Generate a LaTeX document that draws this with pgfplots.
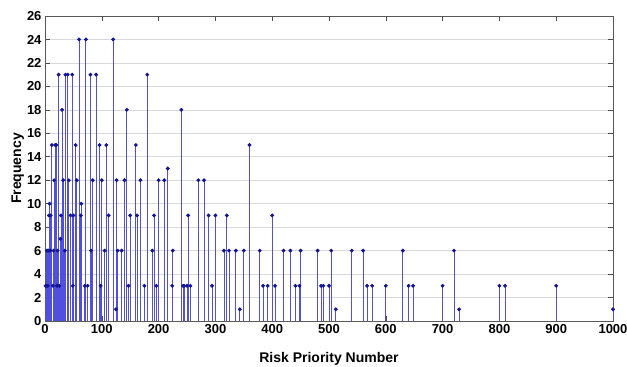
\documentclass[border=0pt]{standalone}
\usepackage{pgfplots}
\pgfplotsset{compat=1.18}
\usepackage{fontspec}
\setmainfont{Liberation Sans}
\definecolor{stemc}{RGB}{80,80,220}
\definecolor{markc}{RGB}{20,20,150}
\begin{document}
\begin{tikzpicture}[x=1pt,y=1pt]
\begin{axis}[
  name=ax,
  scale only axis,
  width=568pt, height=305pt,
  xmin=0, xmax=1000, ymin=0, ymax=26,
  xtick={0,100,...,1000},
  ytick={0,2,...,26},
  ymajorgrids,
  grid style={gray!30, line width=0.6pt},
  tick align=inside,
  major tick length=5pt,
  xtick pos=both, ytick pos=both,
  axis line style={gray!70!black, line width=0.7pt},
  tick style={gray!60!black, line width=0.6pt},
  /pgf/number format/assume math mode=true,
  /pgf/number format/set thousands separator={},
  ticklabel style={font=\fontsize{13}{14}\selectfont\bfseries},
  xlabel={Risk Priority Number},
  ylabel={Frequency},
  label style={font=\fontsize{14}{15}\selectfont\bfseries},
  xlabel style={at={(axis description cs:0.5,0)}, anchor=north, yshift=-28pt},
  ylabel style={yshift=-4pt},
  clip=false,
]
\addplot[ycomb, color=stemc, line width=0.8pt, mark=*, mark size=1.5pt,
  mark options={fill=markc, draw=markc}] table {
x y
1 3
2 3
3 6
4 6
5 3
6 6
7 9
8 10
9 6
10 9
12 15
14 3
15 6
16 12
18 15
20 15
21 3
22 6
24 21
25 3
27 7
28 9
30 18
32 12
35 6
36 21
40 21
42 12
45 9
48 21
49 3
50 9
54 15
56 12
60 24
63 9
64 10
70 3
72 24
75 3
80 21
81 6
84 12
90 21
96 15
98 3
100 12
105 6
108 15
112 9
120 24
125 1
126 12
128 6
135 6
140 12
144 18
147 3
150 9
160 15
162 9
168 12
175 3
180 21
189 6
192 9
196 3
200 12
210 12
216 13
224 3
225 6
240 18
243 3
245 3
250 3
252 9
256 3
270 12
280 12
288 9
294 3
300 9
315 6
320 9
324 6
336 6
343 1
350 6
360 15
378 6
384 3
392 3
400 9
405 3
420 6
432 6
441 3
448 3
450 6
480 6
486 3
490 3
500 3
504 6
512 1
540 6
560 6
567 3
576 3
600 3
630 6
640 3
648 3
700 3
720 6
729 1
800 3
810 3
900 3
1000 1
};
\end{axis}
\pgfresetboundingbox
\path[use as bounding box] ([shift={(-45pt,-46pt)}]ax.south west) rectangle ([shift={(14pt,16pt)}]ax.north east);
\end{tikzpicture}
\end{document}
